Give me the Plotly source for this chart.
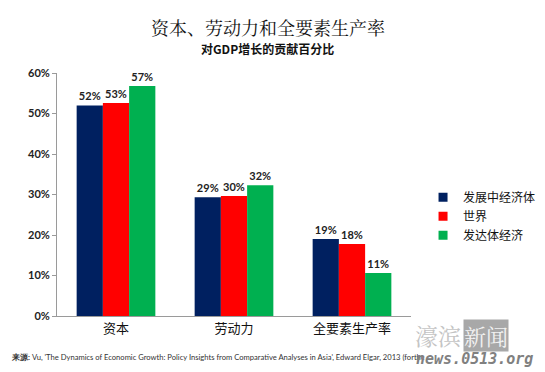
import plotly.graph_objects as go

categories = ["资本", "劳动力", "全要素生产率"]
series_names = ["发展中经济体", "世界", "发达体经济"]
developing_vals = [0.52, 0.293, 0.19]
world_vals = [0.526, 0.296, 0.178]
developed_vals = [0.568, 0.323, 0.106]
developing_labels = ["52%", "29%", "19%"]
world_labels = ["53%", "30%", "18%"]
developed_labels = ["57%", "32%", "11%"]
colors = ["#002060", "#FF0000", "#00B050"]
y_ticks = [0, 0.1, 0.2, 0.3, 0.4, 0.5, 0.6]
y_tick_labels = ["0%", "10%", "20%", "30%", "40%", "50%", "60%"]

fig = go.Figure()
for name, vals, labels, c in [
    (series_names[0], developing_vals, developing_labels, colors[0]),
    (series_names[1], world_vals, world_labels, colors[1]),
    (series_names[2], developed_vals, developed_labels, colors[2]),
]:
    fig.add_trace(go.Bar(
        x=categories, y=vals, name=name, marker_color=c, marker_line_width=0,
        text=labels, textposition="outside", cliponaxis=False, showlegend=False,
        textfont=dict(family="Lato", size=11, color="#222222", weight="bold"),
    ))
# legend entries with small square swatches
for name, c in zip(series_names, colors):
    fig.add_trace(go.Scatter(
        x=[None], y=[None], mode="markers", name=name,
        marker=dict(symbol="square", size=9, color=c), showlegend=True,
    ))

fig.update_layout(
    width=545, height=372,
    margin=dict(l=49, r=138, t=65, b=64),
    paper_bgcolor="white", plot_bgcolor="white",
    barmode="group", bargap=0.333, bargroupgap=0,
    legend=dict(x=1.034, y=0.548, xanchor="left", yanchor="top",
                font=dict(family="Noto Sans CJK SC", size=12, color="#111111"),
                itemwidth=30, bgcolor="rgba(0,0,0,0)"),
    xaxis=dict(showline=True, linecolor="#9a9a9a", linewidth=1, ticks="",
               tickfont=dict(family="Noto Sans CJK SC", size=13, color="#111111")),
    yaxis=dict(range=[0, 0.6], tickvals=y_ticks, ticktext=y_tick_labels,
               showline=True, linecolor="#9a9a9a", linewidth=1, ticks="outside",
               ticklen=4, tickcolor="#9a9a9a", showgrid=False, zeroline=False,
               tickfont=dict(family="Lato", size=11, color="#222222", weight="bold")),
    annotations=[
        dict(text="资本、劳动力和全要素生产率", xref="paper", yref="paper",
             x=0.596, y=1.19, xanchor="center", yanchor="middle", showarrow=False,
             font=dict(family="Noto Serif CJK SC, Noto Sans CJK SC", size=18, color="#111111")),
        dict(text="<b>对GDP增长的贡献百分比</b>", xref="paper", yref="paper",
             x=0.596, y=1.1, xanchor="center", yanchor="middle", showarrow=False,
             font=dict(family="Noto Sans CJK SC", size=12, color="#111111")),
        dict(text="<b>来源:</b> Vu, 'The Dynamics of Economic Growth: Policy Insights from Comparative Analyses in Asia', Edward Elgar, 2013 (forthc",
             xref="paper", yref="paper", x=-0.137, y=-0.169, xanchor="left", yanchor="middle",
             showarrow=False, font=dict(family="Lato", size=7.6, color="#333333")),
        dict(text="濠滨", xref="paper", yref="paper", x=1.005, y=-0.08,
             xanchor="left", yanchor="middle", showarrow=False,
             font=dict(family="Noto Serif CJK SC, Noto Sans CJK SC", size=23, color="#c4c4c4")),
        dict(text="新闻", xref="paper", yref="paper", x=1.148, y=-0.08,
             xanchor="left", yanchor="middle", showarrow=False, bgcolor="#a8a8a8",
             borderpad=0,
             font=dict(family="Noto Serif CJK SC, Noto Sans CJK SC", size=22, color="#f2f2f2")),
        dict(text="<b><i>news.0513.org</i></b>", xref="paper", yref="paper", x=1.008, y=-0.178,
             xanchor="left", yanchor="middle", showarrow=False,
             font=dict(family="DejaVu Sans Mono", size=15, color="#808080")),
    ],
)

fig.write_html("out.html")
